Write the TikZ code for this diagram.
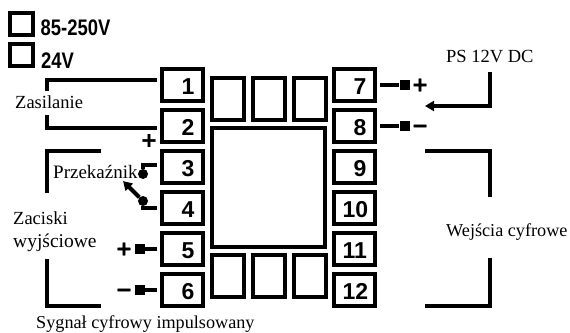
\documentclass[tikz,border=0pt]{standalone}
\usepackage{fontspec}
\setmainfont{Liberation Serif}
\setsansfont{Liberation Sans}
\newfontfamily\signfont[FakeBold=1.6]{DejaVu Sans Bold}
\usetikzlibrary{positioning, arrows.meta}
\tikzset{
  term/.style={draw, line width=4pt, minimum width=41pt, minimum height=31.5pt, inner sep=0pt, outer sep=5pt,
    text width=24pt, align=right, text height=18pt, text depth=0pt, font=\fontsize{23}{23}\sffamily\bfseries},
  socket/.style={draw, line width=4pt, minimum width=32pt, minimum height=42pt, inner sep=0pt},
  tick/.style={draw, line width=4pt, minimum width=23pt, minimum height=22pt, inner sep=0pt},
  volt/.style={anchor=base west, inner sep=0pt, xscale=.82, font=\fontsize{22.5}{22}\sffamily\bfseries},
  wire/.style={line width=4pt},
  pin/.style={fill=black, minimum size=10pt, inner sep=0pt},
  dot/.style={circle, fill=black, minimum size=10pt, inner sep=0pt},
  sign/.style={inner sep=0pt, text height=12.56pt, text depth=0pt, font=\fontsize{20}{20}\signfont},
  txt/.style={anchor=base west, inner sep=0pt, font=\fontsize{18.5}{20}\selectfont},
}
\begin{document}
\begin{tikzpicture}
	[x=1pt, y=-1pt, on grid, >={Triangle[length=9pt,width=10pt]}]
   \useasboundingbox (0,0) rectangle (570,332);
   % legend
   \node[tick] (box_a) at (21.5,24) {};
   \node[tick] (box_b) [below=31pt of box_a] {};
   \node[volt] (volt_a) at (40.5,35) {85-250V};
   \node[volt] (volt_b) at (41,68) {24V};
   % terminals
   \node[term] (t_1) at (182.5,85) {1};
   \node[term] (t_2) [below=41pt of t_1] {2};
   \node[term] (t_3) [below=41pt of t_2] {3};
   \node[term] (t_4) [below=41pt of t_3] {4};
   \node[term] (t_5) [below=41pt of t_4] {5};
   \node[term] (t_6) [below=41pt of t_5] {6};
   \node[term] (t_7) [right=172pt of t_1] {7};
   \node[term] (t_8) [below=41pt of t_7] {8};
   \node[term] (t_9) [below=41pt of t_8] {9};
   \node[term] (t_10) [below=41pt of t_9] {10};
   \node[term] (t_11) [below=41pt of t_10] {11};
   \node[term] (t_12) [below=41pt of t_11] {12};
   % middle
   \node[draw, line width=4pt, minimum width=113pt, minimum height=119pt, inner sep=0pt] (main) at (268.5,187.5) {};
   \node[socket] (s_2) [above=88.5pt of main] {};
   \node[socket] (s_1) [left=41pt of s_2] {};
   \node[socket] (s_3) [right=41pt of s_2] {};
   \node[socket] (s_5) [below=88.5pt of main] {};
   \node[socket] (s_4) [left=41pt of s_5] {};
   \node[socket] (s_6) [right=41pt of s_5] {};
   % pins and signs
   \node[pin] (pin_5) [left=42.5pt of t_5] {};
   \node[pin] (pin_6) [left=42.5pt of t_6] {};
   \node[pin] (pin_7) [right=50pt of t_7] {};
   \node[pin] (pin_8) [right=50pt of t_8] {};
   \node[sign] (sg_2) at (149,140.5) {+};
   \node[sign] (sg_5) [left=16pt of pin_5] {+};
   \node[sign] (sg_6) [left=16pt of pin_6] {−};
   \node[sign] (sg_7) [right=15.5pt of pin_7] {+};
   \node[sign] (sg_8) [right=15.5pt of pin_8] {−};
   \node[dot] (dot_3) at (143,174) {};
   \node[dot] (dot_4) [below=27pt of dot_3] {};
   % free ends
   \coordinate (zas_a) at (47,91);
   \coordinate (zas_b) at (47,115);
   \coordinate (zac_a) at (101,151);
   \coordinate (zac_b) at (47,193);
   \coordinate (zac_c) at (47,259);
   \coordinate (zac_d) at (101,306);
   \coordinate (wej_a) at (425,151);
   \coordinate (wej_b) at (490,197);
   \coordinate (wej_c) at (490,258);
   \coordinate (wej_d) at (425,306);
   \coordinate (ps_a) at (490,72);
   \coordinate (ps_b) at (425,106);
   \coordinate (arm) at (123,181);
   % labels
   \node[txt] (l_zas) at (15,108) {Zasilanie};
   \node[txt, font=\fontsize{19}{20}\selectfont] (l_prz) at (53,178) {Przekaźnik};
   \node[txt] (l_zac) at (13,224) {Zaciski};
   \node[txt, font=\fontsize{19.5}{20}\selectfont] (l_wyj) at (13,247) {wyjściowe};
   \node[txt, font=\fontsize{18.2}{20}\selectfont] (l_syg) at (36,328) {Sygnał cyfrowy impulsowany};
   \node[txt] (l_ps) at (446,62) {PS 12V DC};
   \node[txt, font=\fontsize{18.2}{20}\selectfont] (l_wej) at (446,236) {Wejścia cyfrowe};
   % wires
   \draw[wire] ([yshift=5pt]t_1.west) -| (zas_a);
   \draw[wire] ([yshift=-2pt]t_2.west) -| (zas_b);
   \draw[wire] (zac_a) -| (zac_b);
   \draw[wire] (zac_c) |- (zac_d);
   \draw[wire] (wej_a) -| (wej_b);
   \draw[wire] (wej_c) |- (wej_d);
   \draw[wire, ->] (ps_a) |- (ps_b);
   \draw[wire] ([yshift=2pt]t_3.west) -| (dot_3);
   \draw[wire] (t_4.west) -| (dot_4);
   \draw[wire, ->] (dot_4) -- (arm);
   \draw[wire] (t_5.west) -- (pin_5);
   \draw[wire] (t_6.west) -- (pin_6);
   \draw[wire] (t_7.east) -- (pin_7);
   \draw[wire] (t_8.east) -- (pin_8);
\end{tikzpicture}
\end{document}
